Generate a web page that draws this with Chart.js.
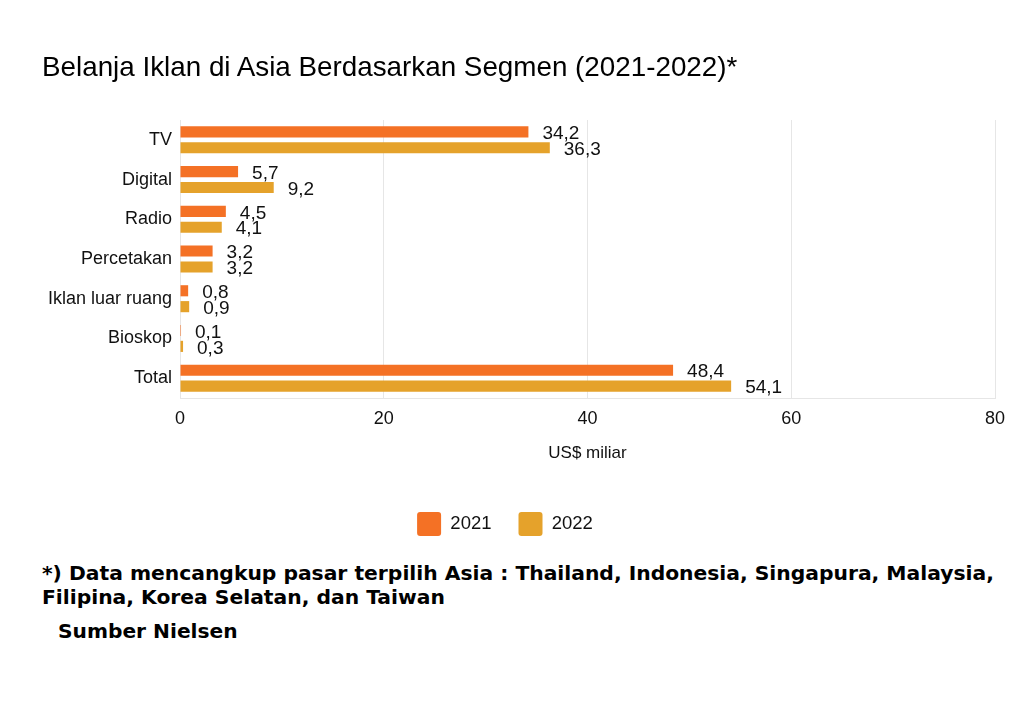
<!DOCTYPE html>
<html><head><meta charset="utf-8">
<script src="https://cdn.jsdelivr.net/npm/chart.js@4"></script>
<style>
html,body{margin:0;padding:0;background:#fff;}
#wrap{position:absolute;left:0;top:0;width:1024px;height:556px;}
#title{position:absolute;left:42px;top:51px;font-family:"Liberation Sans",Arial,sans-serif;font-size:27.8px;color:#000;white-space:nowrap;}
#note{position:absolute;left:42px;top:561px;font-family:"DejaVu Sans",sans-serif;font-weight:bold;font-size:20.3px;line-height:24px;color:#000;white-space:nowrap;}
#src{position:absolute;left:58px;top:619px;font-family:"DejaVu Sans",sans-serif;font-weight:bold;font-size:20.2px;color:#000;}
</style></head><body>
<div id="wrap"><canvas id="c"></canvas></div>
<div id="title">Belanja Iklan di Asia Berdasarkan Segmen (2021-2022)*</div>
<div id="note">*) Data mencangkup pasar terpilih Asia : Thailand, Indonesia, Singapura, Malaysia,<br>Filipina, Korea Selatan, dan Taiwan</div>
<div id="src">Sumber Nielsen</div>
<script>
const categories = ["TV","Digital","Radio","Percetakan","Iklan luar ruang","Bioskop","Total"];
const values2021 = [34.2,5.7,4.5,3.2,0.8,0.1,48.4];
const values2022 = [36.3,9.2,4.1,3.2,0.9,0.3,54.1];
const seriesNames = ["2021","2022"];
const xTicks = [0,20,40,60,80];

const FONT = '"Liberation Sans", Arial, sans-serif';
const valueLabels = {
  id:'valueLabels',
  afterDatasetsDraw(chart){
    const ctx = chart.ctx;
    ctx.save();
    ctx.font = '19px ' + FONT;
    ctx.fillStyle = '#111';
    ctx.textBaseline = 'middle';
    chart.data.datasets.forEach((ds,i)=>{
      chart.getDatasetMeta(i).data.forEach((bar,j)=>{
        const v = ds.data[j];
        ctx.fillText(v.toFixed(1).replace('.',','), bar.x + 14, bar.y + 2);
      });
    });
    ctx.restore();
  }
};
new Chart(document.getElementById('c'),{
  type:'bar',
  data:{labels:categories,datasets:[
    {label:seriesNames[0],data:values2021,backgroundColor:'#F47125',categoryPercentage:0.8,barPercentage:0.7},
    {label:seriesNames[1],data:values2022,backgroundColor:'#E5A22B',categoryPercentage:0.8,barPercentage:0.7}
  ]},
  options:{
    indexAxis:'y',responsive:true,maintainAspectRatio:false,animation:false,
    layout:{padding:{left:15,right:29,top:120,bottom:10}},
    scales:{
      x:{min:0,max:80,afterBuildTicks(a){a.ticks=xTicks.map(v=>({value:v}));},
        grid:{color:'#e6e6e6',drawTicks:false},border:{color:'#e6e6e6'},
        ticks:{color:'#111',font:{family:FONT,size:18},padding:10},
        title:{display:true,text:'US$ miliar',color:'#111',font:{family:FONT,size:17},padding:{top:4,bottom:21}}},
      y:{grid:{display:false,drawTicks:false},border:{color:'#e6e6e6'},
        afterFit(a){a.width=165;},
        ticks:{color:'#111',font:{family:FONT,size:18},padding:8}}
    },
    plugins:{
      title:{display:false},
      legend:{position:'bottom',labels:{color:'#111',font:{family:FONT,size:18.5},boxWidth:24,boxHeight:24,useBorderRadius:true,borderRadius:3,padding:27}},
      tooltip:{enabled:false}
    }
  },
  plugins:[valueLabels]
});
</script></body></html>
